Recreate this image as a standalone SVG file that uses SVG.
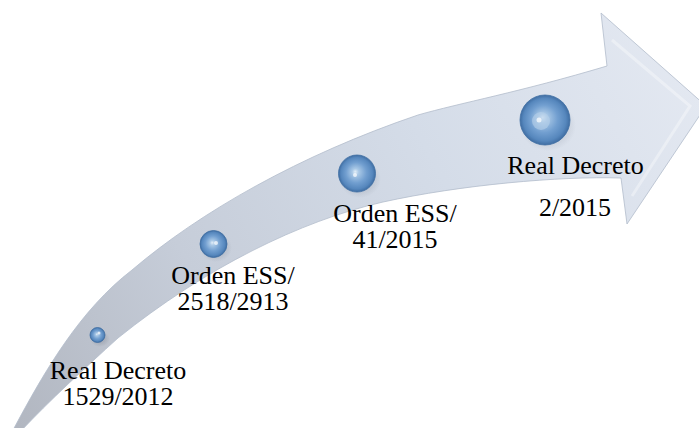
<svg xmlns="http://www.w3.org/2000/svg" width="699" height="428" viewBox="0 0 699 428">
  <defs>
    <linearGradient id="arrowFill" gradientUnits="userSpaceOnUse" x1="20" y1="428" x2="680" y2="60">
      <stop offset="0" stop-color="#b2b7c1"/>
      <stop offset="0.3" stop-color="#c6cdd9"/>
      <stop offset="0.65" stop-color="#d4dce8"/>
      <stop offset="1" stop-color="#e3e8f1"/>
    </linearGradient>
    <radialGradient id="sphere" cx="0.5" cy="0.5" r="0.5" fx="0.45" fy="0.45">
      <stop offset="0" stop-color="#e2eef8"/>
      <stop offset="0.18" stop-color="#a9c8e6"/>
      <stop offset="0.55" stop-color="#729fd0"/>
      <stop offset="0.85" stop-color="#5687bd"/>
      <stop offset="1" stop-color="#3f6da2"/>
    </radialGradient>
    <radialGradient id="shadow" cx="0.5" cy="0.5" r="0.5">
      <stop offset="0" stop-color="#6b7280" stop-opacity="0.45"/>
      <stop offset="1" stop-color="#6b7280" stop-opacity="0"/>
    </radialGradient>
  </defs>
  <style>
    .lbl { font-family: "Liberation Serif", "Times New Roman", serif; font-size: 26px; fill: #000; text-anchor: middle; }
    .ball { fill: url(#sphere); stroke: #3f6ea3; stroke-width: 0.8; }
    .shd { fill: url(#shadow); }
    .glint { fill: #ffffff; opacity: 0.7; }
  </style>
  <rect width="699" height="428" fill="#ffffff"/>

  <g id="arrow">
    <path d="M12,432 C45,370 80,310 132,270 C200,212 300,155 418,115 C460,103 520,92 607,66 L601,13 L706,106 L627,224 L621,178 C560,176 460,185 383,202 C300,221 205,268 118,338 C85,368 50,400 20,432 Z" fill="url(#arrowFill)" stroke="#b3bccb" stroke-width="0.8"/>
    <path d="M612,40 L690,106 L632,196" fill="none" stroke="#ffffff" stroke-opacity="0.35" stroke-width="3"/>
  </g>

  <g id="n1">
    <ellipse class="shd" cx="100" cy="339" rx="10" ry="8"/>
    <circle class="ball" cx="97.5" cy="335" r="7.5"/>
    <circle class="glint" cx="99" cy="333" r="1.5"/>
    <text class="lbl" x="118" y="379">Real Decreto<tspan x="118" dy="26">1529/2012</tspan></text>
  </g>

  <g id="n2">
    <ellipse class="shd" cx="216" cy="248" rx="16" ry="14"/>
    <circle class="ball" cx="213.5" cy="244" r="13.5"/>
    <circle class="glint" cx="216" cy="243" r="2"/>
    <text class="lbl" x="233" y="284">Orden ESS/<tspan x="233" dy="26">2518/2913</tspan></text>
  </g>

  <g id="n3">
    <ellipse class="shd" cx="360" cy="179" rx="21" ry="19"/>
    <circle class="ball" cx="357" cy="173.5" r="18.5"/>
    <circle class="glint" cx="355" cy="175" r="2"/>
    <text class="lbl" x="395" y="222">Orden ESS/<tspan x="395" dy="25.5">41/2015</tspan></text>
  </g>

  <g id="n4">
    <ellipse class="shd" cx="548" cy="126" rx="28" ry="25"/>
    <circle class="ball" cx="545" cy="120" r="25"/>
    <circle cx="541" cy="121" r="9" fill="#b7d1ea" opacity="0.6"/>
    <circle class="glint" cx="539" cy="120" r="2.5"/>
    <text class="lbl" x="575.5" y="174">Real Decreto</text>
    <text class="lbl" x="575" y="216">2/2015</text>
  </g>
</svg>
